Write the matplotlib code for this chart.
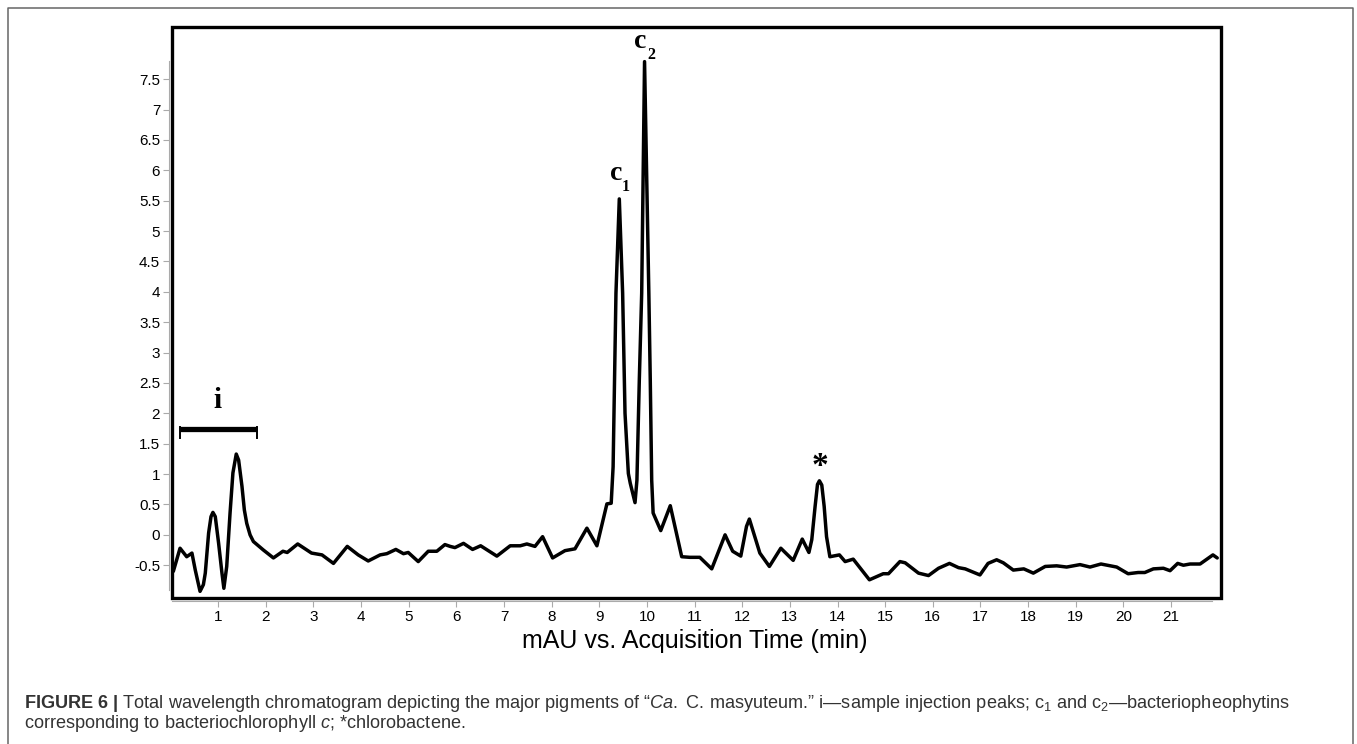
import numpy as np
import matplotlib
matplotlib.use("Agg")
from matplotlib import pyplot as plt
from matplotlib.patches import Rectangle
from matplotlib.lines import Line2D

plt.rcParams['font.family'] = ['Liberation Sans', 'DejaVu Sans']
plt.rcParams['mathtext.fontset'] = 'custom'
plt.rcParams['mathtext.rm'] = 'Liberation Sans'
plt.rcParams['mathtext.it'] = 'Liberation Sans:italic'
plt.rcParams['mathtext.bf'] = 'Liberation Sans:bold'

##############################################################################
# Chromatogram trace (time in min, signal in mAU)

time_min = [0.06, 0.20, 0.34, 0.45, 0.52, 0.62, 0.69, 0.73, 0.80, 0.85, 0.89,
            0.94, 1.01, 1.08, 1.12, 1.18, 1.25, 1.31, 1.38, 1.43, 1.50, 1.55,
            1.60, 1.67, 1.74, 1.95, 2.16, 2.36, 2.45, 2.67, 2.96, 3.18, 3.42,
            3.71, 3.94, 4.15, 4.40, 4.54, 4.73, 4.89, 4.99, 5.20, 5.41, 5.59,
            5.76, 5.87, 5.97, 6.15, 6.34, 6.51, 6.85, 7.13, 7.34, 7.48, 7.65,
            7.81, 8.02, 8.28, 8.49, 8.74, 8.95, 9.16, 9.25, 9.29, 9.35, 9.42,
            9.49, 9.54, 9.61, 9.65, 9.75, 9.79, 9.84, 9.89, 9.95, 10.04, 10.07,
            10.10, 10.13, 10.29, 10.49, 10.73, 10.90, 11.11, 11.36, 11.64,
            11.80, 11.97, 12.09, 12.15, 12.37, 12.57, 12.81, 13.07, 13.26,
            13.40, 13.46, 13.53, 13.58, 13.62, 13.67, 13.72, 13.77, 13.84,
            14.04, 14.16, 14.33, 14.67, 14.96, 15.07, 15.31, 15.42, 15.70,
            15.91, 16.12, 16.35, 16.54, 16.68, 16.99, 17.16, 17.34, 17.48,
            17.69, 17.91, 18.11, 18.36, 18.60, 18.81, 19.09, 19.30, 19.53,
            19.86, 20.10, 20.31, 20.45, 20.63, 20.84, 20.98, 21.14, 21.26,
            21.40, 21.61, 21.88, 21.97]
mau = [-0.60, -0.22, -0.36, -0.30, -0.58, -0.93, -0.82, -0.63, 0.03, 0.30, 0.37,
       0.30, -0.14, -0.63, -0.88, -0.52, 0.36, 1.02, 1.33, 1.23, 0.80, 0.41,
       0.19, 0.00, -0.11, -0.25, -0.38, -0.27, -0.29, -0.15, -0.30, -0.33, -0.47,
       -0.19, -0.33, -0.43, -0.33, -0.31, -0.24, -0.31, -0.29, -0.44, -0.27, -0.27,
       -0.16, -0.19, -0.21, -0.14, -0.24, -0.18, -0.35, -0.18, -0.18, -0.15, -0.19,
       -0.03, -0.38, -0.26, -0.23, 0.11, -0.18, 0.51, 0.52, 1.12, 3.98, 5.53,
       3.98, 2.00, 1.01, 0.85, 0.53, 0.90, 2.55, 3.98, 7.79, 3.98, 2.55,
       0.90, 0.36, 0.07, 0.48, -0.36, -0.37, -0.37, -0.56, 0.00,
       -0.27, -0.35, 0.14, 0.26, -0.30, -0.52, -0.22, -0.42, -0.07,
       -0.29, -0.08, 0.47, 0.83, 0.89, 0.82, 0.47, -0.03, -0.36,
       -0.33, -0.44, -0.40, -0.74, -0.64, -0.64, -0.44, -0.46, -0.63,
       -0.67, -0.55, -0.47, -0.54, -0.56, -0.66, -0.47, -0.41, -0.46,
       -0.58, -0.56, -0.63, -0.52, -0.51, -0.53, -0.49, -0.53, -0.48,
       -0.53, -0.64, -0.62, -0.62, -0.56, -0.55, -0.59, -0.47, -0.50,
       -0.48, -0.48, -0.33, -0.38]

x_ticks = list(range(1, 22))
y_ticks = [-0.5, 0, 0.5, 1, 1.5, 2, 2.5, 3, 3.5, 4, 4.5, 5, 5.5, 6, 6.5, 7, 7.5]
y_ticklabels = ['%g' % v for v in y_ticks]

##############################################################################
# Figure

fig = plt.figure(figsize=(13.57, 7.44), dpi=100)
ax = fig.add_axes([0.1267, 0.1962, 0.7731, 0.7675])

ax.plot(time_min, mau, color='black', lw=2.5, solid_joinstyle='round',
        solid_capstyle='round', zorder=3)

ax.set_xlim(0.03, 22.05)
ax.set_ylim(-1.04, 8.36)

# thick plot frame
ax.add_patch(Rectangle((0, 0), 1, 1, transform=ax.transAxes, fill=False,
                       lw=2.4, ec='black', clip_on=False, zorder=5))

# light grey axis lines with ticks, sitting just outside the frame
for s in ['top', 'right']:
    ax.spines[s].set_visible(False)
for s in ['left', 'bottom']:
    ax.spines[s].set_position(('outward', 2))
    ax.spines[s].set_color('#aaaaaa')
    ax.spines[s].set_linewidth(0.8)
ax.spines['left'].set_bounds(-0.9, 7.8)
ax.spines['bottom'].set_bounds(0.03, 21.87)

ax.set_xticks(x_ticks)
ax.set_yticks(y_ticks)
ax.set_yticklabels(y_ticklabels)
ax.tick_params(axis='both', color='#aaaaaa', length=4, width=0.8,
               labelsize=11, labelcolor='black', pad=2.5)

# peak labels
lab = dict(family=['Liberation Serif', 'DejaVu Serif'], weight='bold', color='black')
ax.text(0.99, 2.085, 'i', fontsize=21, ha='center', va='baseline', **lab)
ax.text(9.36, 5.84, 'c', fontsize=20, ha='center', va='baseline', **lab)
ax.text(9.56, 5.66, '1', fontsize=11.5, ha='center', va='baseline', **lab)
ax.text(9.86, 8.01, 'c', fontsize=20, ha='center', va='baseline', **lab)
ax.text(10.09, 7.83, '2', fontsize=11.5, ha='center', va='baseline', **lab)
ax.text(13.63, 1.12, '*', fontsize=24, ha='center', va='center', **lab)

# bracket over the injection peaks
ax.plot([0.20, 1.81], [1.745, 1.745], color='black', lw=3.8, solid_capstyle='butt', zorder=4)
ax.plot([0.20, 0.20], [1.77, 1.60], color='black', lw=1.4, zorder=4)
ax.plot([1.81, 1.81], [1.77, 1.60], color='black', lw=1.4, zorder=4)

fig.text(695 / 1357, 1 - 648 / 744, 'mAU vs. Acquisition Time (min)',
         fontsize=18, ha='center', va='baseline')

# outer panel border
bx0, bx1, by1 = 8 / 1357, 1353 / 1357, 1 - 8 / 744
fig.add_artist(Line2D([bx0, bx0, bx1, bx1], [0, by1, by1, 0],
                      transform=fig.transFigure, color='#666666', lw=1.1))

# caption
cap = dict(fontsize=13.1, color='#333333', ha='left', va='baseline')
fig.text(24 / 1357, 1 - 708 / 744,
         r'$\mathbf{FIGURE\ 6\ |}$ Total wavelength chromatogram depicting the major '
         r'pigments of “$\mathit{Ca.}$ C. masyuteum.” i—sample injection peaks; '
         r'c$_1$ and c$_2$—bacteriopheophytins', **cap)
fig.text(24 / 1357, 1 - 728 / 744,
         r'corresponding to bacteriochlorophyll $\mathit{c}$; *chlorobactene.', **cap)

fig.savefig('out.png', dpi=100)
